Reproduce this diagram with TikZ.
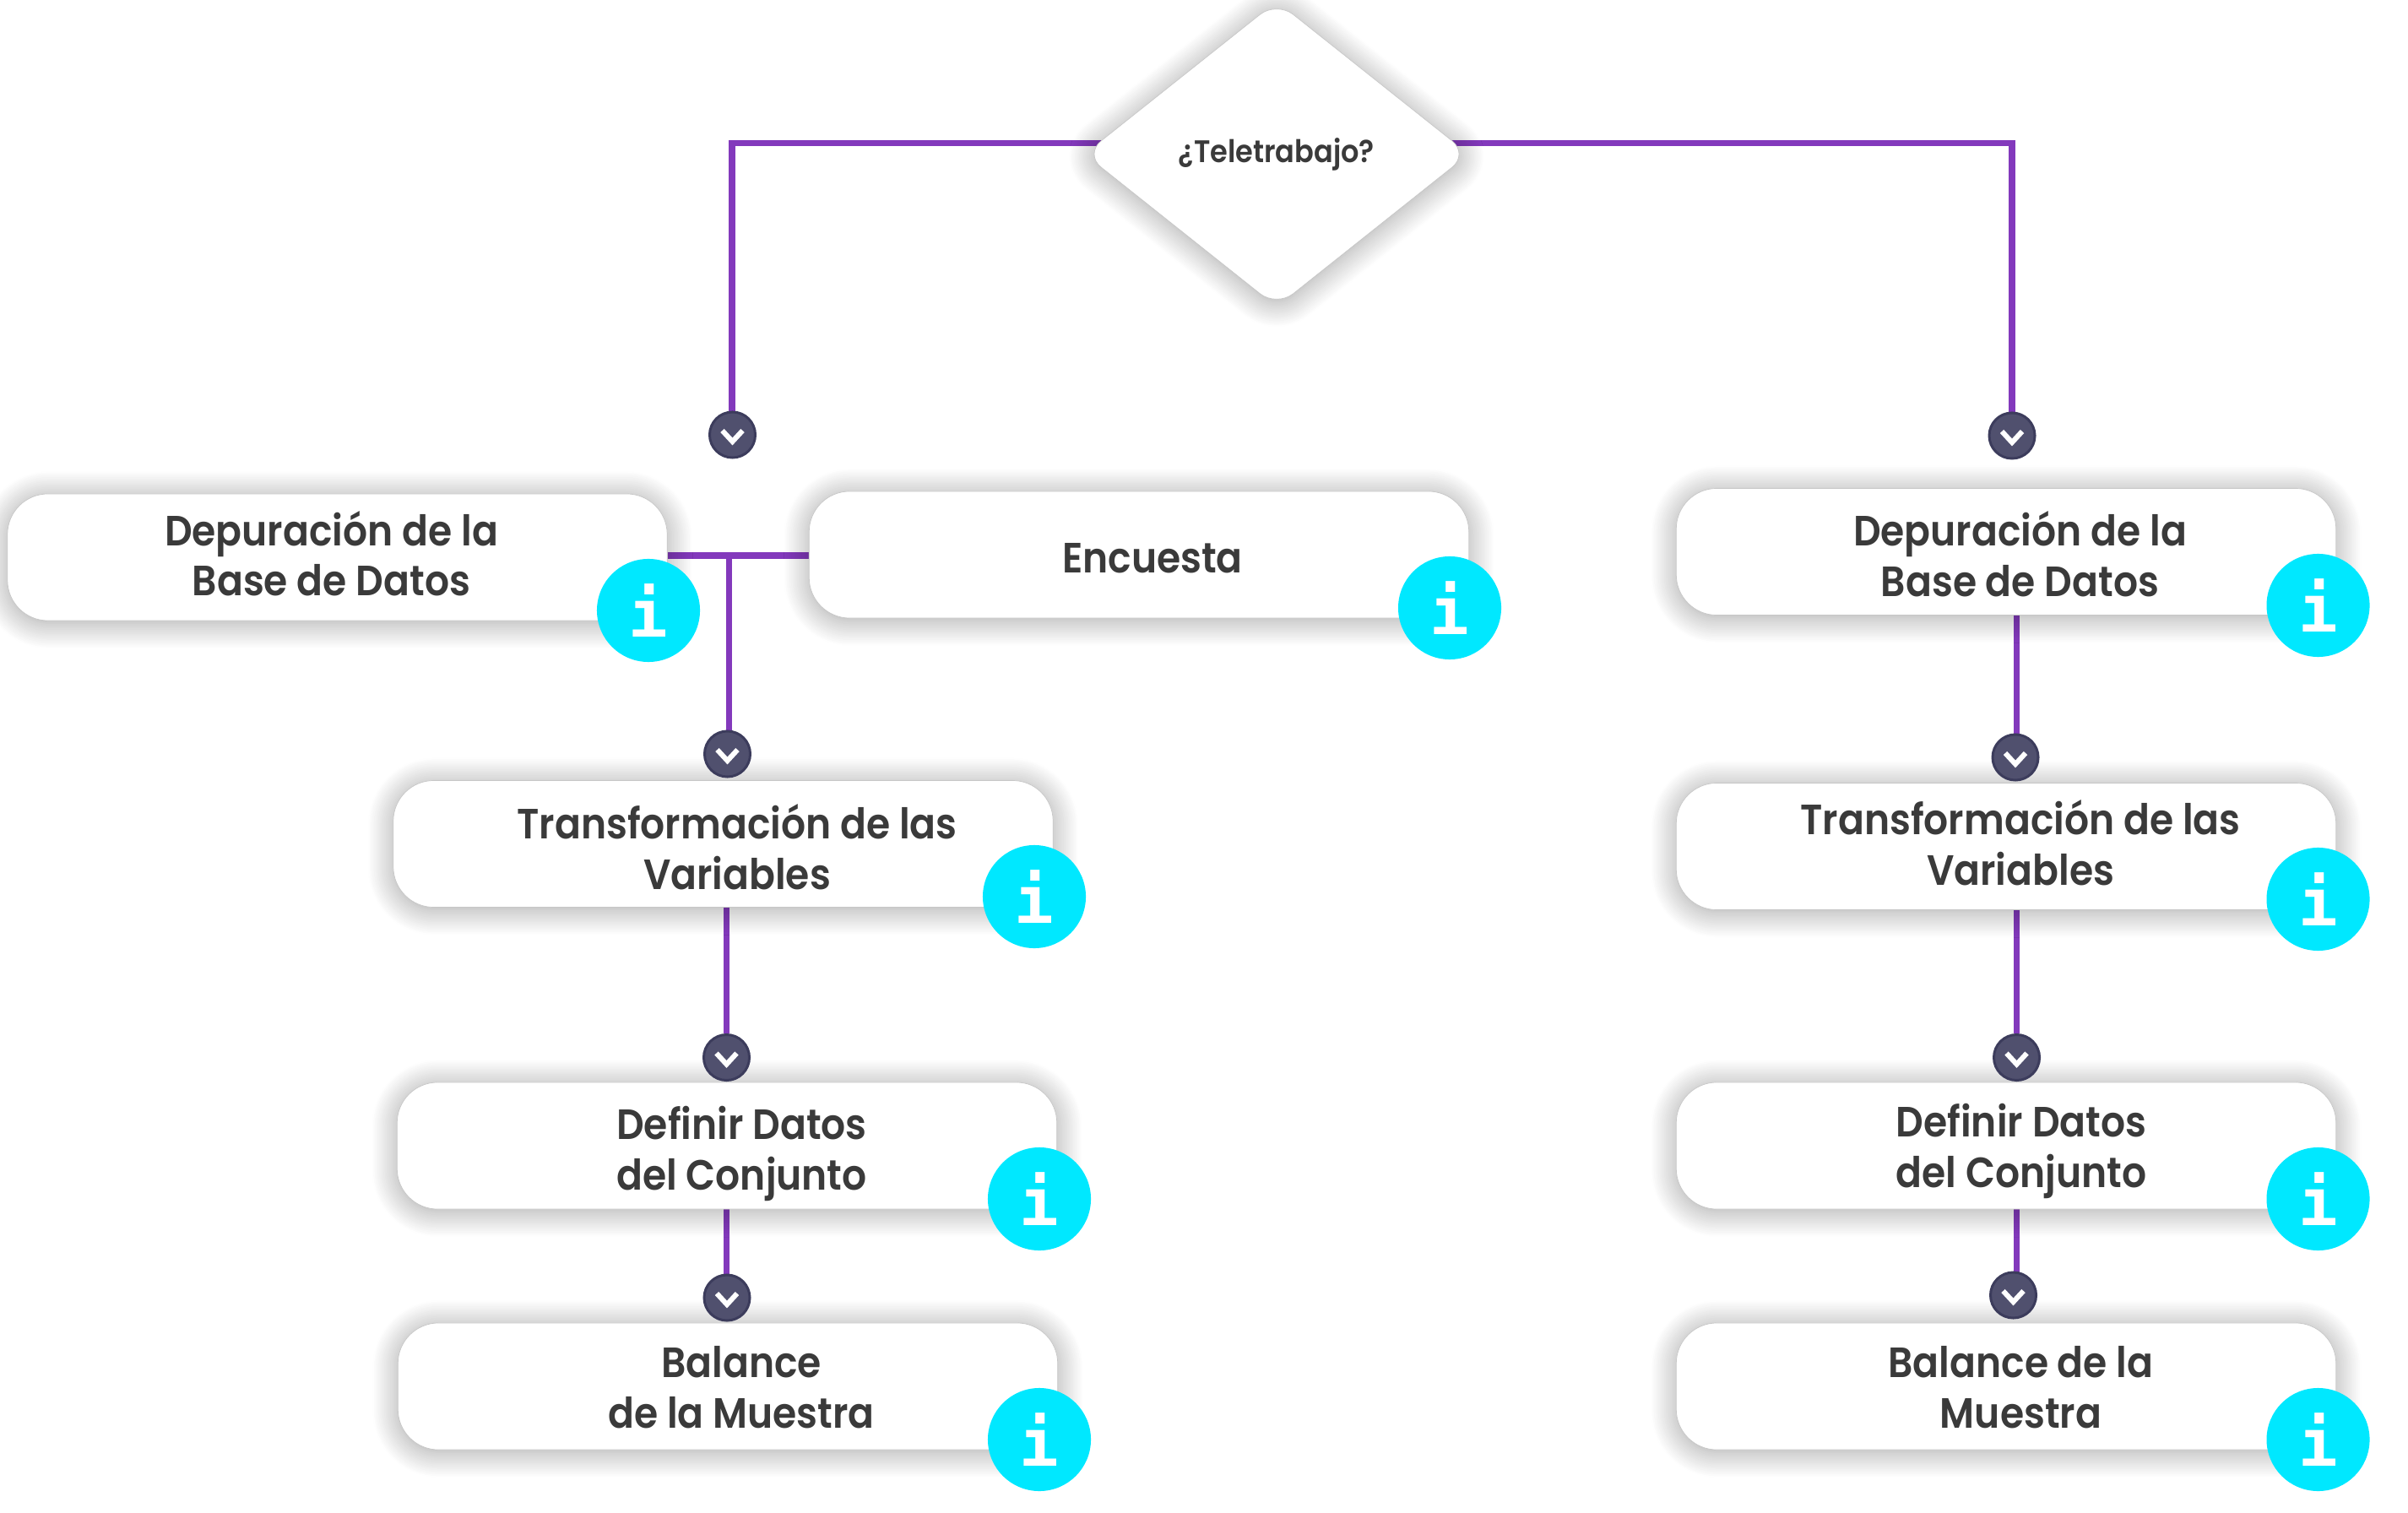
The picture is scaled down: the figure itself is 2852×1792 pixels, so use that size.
\documentclass[tikz,border=0pt]{standalone}
\usepackage{fontspec}
\setmainfont{Poppins SemiBold}[FakeStretch=0.91]
\newfontfamily\iconofont{DejaVu Sans Mono}
\usetikzlibrary{shapes.geometric,shadows.blur,backgrounds}
\definecolor{violeta}{HTML}{8339BC}
\definecolor{texto}{HTML}{3A3A3A}
\definecolor{chevfondo}{HTML}{50506E}
\definecolor{chevborde}{HTML}{3C3C5C}
\definecolor{infofondo}{HTML}{00E8FF}
\tikzset{
    sombra/.style={blur shadow={shadow xshift=0cm, shadow yshift=-0.03cm, shadow blur radius=0.3cm, shadow blur steps=18, shadow opacity=37}},
    caja/.style={rectangle, rounded corners=0.48cm, fill=white, draw=black!22, line width=0.2pt, minimum width=7.81cm, minimum height=1.5cm, sombra},
    etiqueta/.style={anchor=base, align=center, text=texto, inner sep=0pt, font=\fontsize{14.25}{16.97}\selectfont},
    rombo/.style={diamond, aspect=1.26, inner sep=0pt, rounded corners=0.25cm, fill=white, draw=black!22, line width=0.2pt, minimum width=4.55cm, minimum height=3.62cm, text=texto, font=\fontsize{10.5}{12}\selectfont, sombra},
    info/.style={circle, fill=infofondo, minimum size=1.22cm, inner sep=0pt, text=white, font=\fontsize{22}{22}\iconofont\bfseries},
    chev/.style={circle, fill=chevfondo, draw=chevborde, line width=0.03cm, minimum size=0.54cm, inner sep=0pt},
    linea/.style={draw=violeta, line width=0.078cm},
}
\newcommand{\flecha}[1]{\draw[white, line width=0.06cm] ([xshift=-0.12cm, yshift=0.05cm]#1.center) -- ([yshift=-0.08cm]#1.center) -- ([xshift=0.12cm, yshift=0.05cm]#1.center);}
\begin{document}
\begin{tikzpicture}[x=0.01cm, y=-0.01cm]
    \useasboundingbox (0,0) rectangle (2852,1792);

    % rombo y cajas
    \node[rombo] (tele) at (1512,182.5) {¿Teletrabajo?};
    \node[caja] (dep1) at (399.5,660) {};
    \node[caja] (enc) at (1349,657) {};
    \node[caja] (tra1) at (856.5,999.5) {};
    \node[caja] (def1) at (861,1357) {};
    \node[caja] (bal1) at (862,1642) {};
    \node[caja] (dep2) at (2376,653.5) {};
    \node[caja] (tra2) at (2376,1002.5) {};
    \node[caja] (def2) at (2376,1357) {};
    \node[caja] (bal2) at (2376,1642) {};

    % textos de las cajas
    \node[etiqueta] (tdep1) at (392.5,706) {Depuración de la\\Base de Datos};
    \node[etiqueta] (tenc) at (1365,679) {Encuesta};
    \node[etiqueta] (ttra1) at (873,1053.5) {Transformación de las\\Variables};
    \node[etiqueta] (tdef1) at (878.5,1409) {Definir Datos\\del Conjunto};
    \node[etiqueta] (tbal1) at (878,1691.5) {Balance\\de la Muestra};
    \node[etiqueta] (tdep2) at (2392.5,706.5) {Depuración de la\\Base de Datos};
    \node[etiqueta] (ttra2) at (2393,1048.5) {Transformación de las\\Variables};
    \node[etiqueta] (tdef2) at (2394,1406.5) {Definir Datos\\del Conjunto};
    \node[etiqueta] (tbal2) at (2393.5,1691.5) {Balance de la\\Muestra};

    % puntos de paso
    \coordinate (giroI) at (867,169.5);
    \coordinate (giroD) at (2383,169.5);
    \coordinate (junta) at (863.5,658);

    \node[chev] (c1) at (867.5,515) {};
    \node[chev] (c2) at (2383,516) {};
    \node[chev] (c3) at (861.5,893) {};
    \node[chev] (c4) at (2387,897) {};
    \node[chev] (c5) at (860.5,1252.5) {};
    \node[chev] (c6) at (2388.5,1252.5) {};
    \node[chev] (c7) at (861,1537) {};
    \node[chev] (c8) at (2384.5,1534) {};

    \begin{scope}[on background layer]
        \path[linea] (tele |- giroI) -- (giroI) -- (giroI |- c1);
        \path[linea] (tele |- giroD) -- (giroD) -- (giroD |- c2);
        \path[linea] (dep1.east |- junta) -- (enc.west |- junta);
        \path[linea] (junta) -- (junta |- c3);
        \path[linea] (tra1.south -| c5) -- (c5);
        \path[linea] (def1.south -| c5) -- (c5 |- c7);
        \path[linea] (dep2.south -| c6) -- (c6 |- c4);
        \path[linea] (tra2.south -| c6) -- (c6);
        \path[linea] (def2.south -| c6) -- (c6 |- c8);
    \end{scope}

    \foreach \n in {c1,c2,c3,c4,c5,c6,c7,c8}{
        \flecha{\n}
    }

    \node[info] (i1) at (768,723) {i};
    \node[info] (i2) at (1717,720) {i};
    \node[info] (i3) at (1225,1062) {i};
    \node[info] (i4) at (1231,1420) {i};
    \node[info] (i5) at (1231,1705) {i};
    \node[info] (i6) at (2745.5,717) {i};
    \node[info] (i7) at (2745.5,1065) {i};
    \node[info] (i8) at (2745.5,1420) {i};
    \node[info] (i9) at (2745.5,1705) {i};
\end{tikzpicture}
\end{document}
